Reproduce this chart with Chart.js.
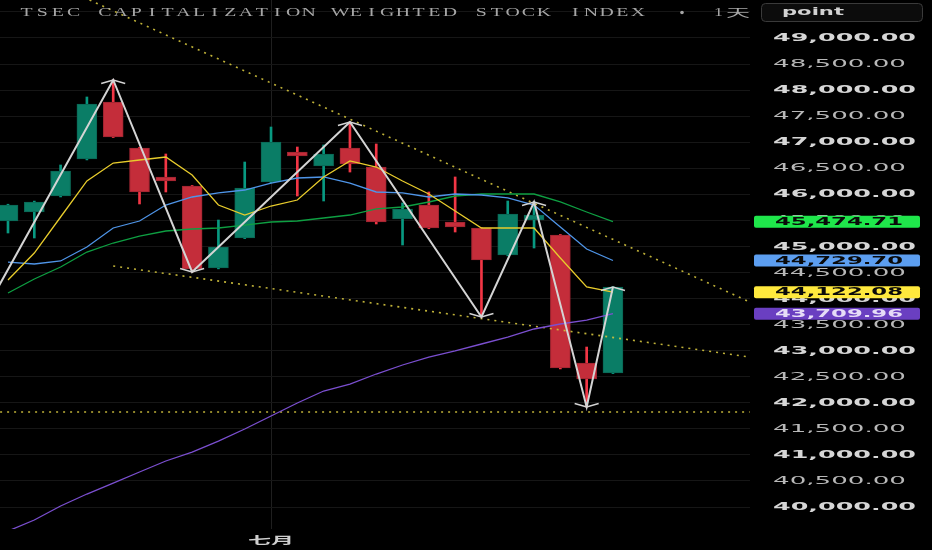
<!DOCTYPE html>
<html>
<head>
<meta charset="utf-8">
<script src="https://cdn.jsdelivr.net/npm/chart.js@4.4.1/dist/chart.umd.min.js"></script>
<style>
  html, body { margin: 0; padding: 0; background: #000; }
  #wrap { width: 932px; height: 550px; }
</style>
</head>
<body>
<div id="wrap"><canvas id="chart" width="932" height="550"></canvas></div>
<script>
// daily candles, index 0..23 (index 10 = first trading day of July)
const opens  = [45488, 45661, 45968, 46678, 47772, 46889, 46333, 46160, 44586, 45162, 46237, 46812,
                46544, 46889, 46524, 45527, 45795, 45469, 45354, 44836, 45507, 45220, 42763, 42571];
const highs  = [45810, 45870, 46563, 47868, 48194, 46900, 46774, 46170, 45507, 46620, 47292, 46908,
                46947, 47388, 46966, 45834, 46045, 46333, 45360, 45872, 45853, 45230, 43070, 44230];
const lows   = [45258, 45162, 45950, 46660, 47090, 45815, 46045, 44510, 44570, 45150, 46220, 45968,
                45872, 46428, 45431, 45028, 45340, 45277, 43646, 44820, 44970, 42650, 41919, 42560];
const closes = [45795, 45853, 46448, 47733, 47100, 46045, 46256, 44567, 44989, 46122, 47004, 46736,
                46774, 46582, 45469, 45718, 45354, 45373, 44740, 45623, 45603, 42667, 42456, 44222];

const ma5  = [44356, 44874, 45565, 46256, 46601, 46659, 46716, 46371, 45795, 45603, 45776, 45891,
              46333, 46640, 46524, 46256, 46006, 45680, 45354, 45354, 45354, 44778, 44222, 44122.08];
const ma10 = [44701, 44663, 44721, 44989, 45354, 45488, 45795, 45949, 46026, 46083, 46217, 46313,
              46333, 46217, 46045, 46026, 45949, 46006, 45987, 45930, 45795, 45373, 44951, 44729.70];
const ma20 = [44107, 44375, 44605, 44893, 45066, 45200, 45296, 45335, 45354, 45411, 45469, 45488,
              45546, 45603, 45719, 45757, 45853, 45968, 46006, 46006, 46006, 45853, 45661, 45474.71];
const ma60 = [39539, 39750, 40019, 40249, 40460, 40672, 40883, 41055, 41266, 41497, 41746, 41996,
              42226, 42360, 42552, 42725, 42878, 42994, 43128, 43262, 43416, 43512, 43588, 43709.96];

// zigzag pivots
const zigzagIdx = [-1, 4, 7, 13, 18, 20, 22, 23];
const zigzagVal = [43650, 48194, 44510, 47388, 43646, 45853, 41919, 44222];

// dotted drawing lines: [idx, value] pairs
const upperTrend = [[3.1, 49729], [28.2, 43934]];
const lowerTrend = [[4, 44625], [28.2, 42878]];
const supportLine = [[-0.3, 41823], [28.2, 41823]];

const yTicks = [];
for (let v = 40000; v <= 49500; v += 500) yTicks.push(v);
const monthTick = 10;
const monthLabel = '七月';
const lastValues = [45474.71, 44729.70, 44122.08, 43709.96];
const titleText = 'TSEC CAPITALIZATION WEIGHTED STOCK INDEX';
const intervalText = '1天';
const unitText = 'point';

const UP = '#0a7d66', DOWN = '#c42d3a';
const idx = opens.map((_, i) => i);
const isUp = i => closes[i] >= opens[i];
const pts = (arr) => arr.map((v, i) => ({ x: i, y: v }));
const pairPts = (arr) => arr.map(p => ({ x: p[0], y: p[1] }));
const dotted = 'rgba(212,196,62,0.9)';
const fmt = v => v.toLocaleString('en-US', { minimumFractionDigits: 2, maximumFractionDigits: 2 });

function stretchText(ctx, text, x, y, width) {
  const w = ctx.measureText(text).width;
  ctx.save();
  ctx.translate(x, y);
  ctx.scale(width / w, 1);
  ctx.fillText(text, 0, 0);
  ctx.restore();
}

const bgPlugin = {
  id: 'bg',
  beforeDraw(chart) {
    const ctx = chart.ctx;
    ctx.save();
    ctx.fillStyle = '#000';
    ctx.fillRect(0, 0, chart.width, chart.height);
    ctx.restore();
  }
};

const overlayPlugin = {
  id: 'overlay',
  afterDatasetsDraw(chart) {
    const ctx = chart.ctx, xs = chart.scales.x, ys = chart.scales.y;
    ctx.save();
    ctx.strokeStyle = '#d4d4d4';
    ctx.lineWidth = 1.5;
    for (let k = 1; k < zigzagIdx.length; k++) {
      const px = xs.getPixelForValue(zigzagIdx[k]);
      const py = ys.getPixelForValue(zigzagVal[k]);
      const peak = zigzagVal[k] > zigzagVal[k - 1];
      const d = peak ? 3.5 : -3.5;
      ctx.beginPath();
      ctx.moveTo(px - 12, py + d);
      ctx.lineTo(px, py);
      ctx.lineTo(px + 12, py + d);
      ctx.stroke();
    }
    ctx.restore();
  },
  afterDraw(chart) {
    const ctx = chart.ctx, xs = chart.scales.x, ys = chart.scales.y;
    ctx.save();
    ctx.textBaseline = 'middle';

    // title, one fixed-width cell per character
    ctx.fillStyle = '#a6a6a6';
    ctx.font = '12px "Liberation Serif"';
    ctx.textAlign = 'center';
    for (let k = 0; k < titleText.length; k++) {
      const ch = titleText[k];
      if (ch === ' ') continue;
      ctx.save();
      ctx.translate(20 + k * 15.68 + 6.5, 12.5);
      ctx.scale(1.65, 1);
      ctx.fillText(ch, 0, 0);
      ctx.restore();
    }
    ctx.textAlign = 'left';
    ctx.beginPath();
    ctx.arc(682, 12.5, 1.8, 0, Math.PI * 2);
    ctx.fill();
    ctx.font = '12px "Liberation Serif"';
    stretchText(ctx, intervalText[0], 714, 12.5, 9);
    ctx.font = '11px "Noto Sans CJK SC"';
    stretchText(ctx, intervalText.slice(1), 726, 12.5, 24);

    // unit box
    ctx.fillStyle = '#0c0c0c';
    ctx.strokeStyle = '#3a3a3a';
    ctx.lineWidth = 1;
    ctx.beginPath();
    ctx.roundRect(761.5, 3.5, 161, 18, 4);
    ctx.fill();
    ctx.stroke();
    ctx.fillStyle = '#d2d2d2';
    ctx.font = 'bold 11px "DejaVu Sans"';
    stretchText(ctx, unitText, 782, 12.5, 62);

    // month label
    ctx.fillStyle = '#cfcfcf';
    ctx.font = 'bold 10px "Noto Sans CJK SC"';
    stretchText(ctx, monthLabel, xs.getPixelForValue(monthTick) - 23, 540, 46);

    // y tick labels
    yTicks.forEach(v => {
      if (v > 49000) return;
      const y = ys.getPixelForValue(v);
      const major = v % 1000 === 0;
      ctx.fillStyle = major ? '#d6d6d6' : '#b8b8b8';
      ctx.font = (major ? 'bold ' : '') + '10px "DejaVu Sans"';
      stretchText(ctx, fmt(v), 773, y + 0.5, major ? 143 : 133);
    });

    // last value tags
    const tagBg = ['#1fe64b', '#5c9ef0', '#ffe93d', '#6a3fc1'];
    const tagFg = ['#0a0a0a', '#0a0a0a', '#0a0a0a', '#e6dcf7'];
    lastValues.forEach((v, k) => {
      const y = ys.getPixelForValue(v);
      ctx.fillStyle = tagBg[k];
      ctx.beginPath();
      ctx.roundRect(754, y - 6, 166, 12, 2);
      ctx.fill();
      ctx.fillStyle = tagFg[k];
      ctx.font = 'bold 10px "DejaVu Sans"';
      stretchText(ctx, fmt(v), 775, y + 0.5, 128);
    });
    ctx.restore();
  }
};

new Chart(document.getElementById('chart'), {
  type: 'bar',
  data: {
    datasets: [
      {
        type: 'line', order: 0, data: zigzagIdx.map((x, k) => ({ x: x, y: zigzagVal[k] })),
        borderColor: '#d4d4d4', borderWidth: 2, pointRadius: 0, tension: 0
      },
      { type: 'line', order: 1, data: pts(ma5), borderColor: '#e8cc2c', borderWidth: 1.3, pointRadius: 0 },
      { type: 'line', order: 1, data: pts(ma10), borderColor: '#4f95e8', borderWidth: 1.3, pointRadius: 0 },
      { type: 'line', order: 1, data: pts(ma20), borderColor: '#0e9f42', borderWidth: 1.3, pointRadius: 0 },
      { type: 'line', order: 1, data: pts(ma60), borderColor: '#7b4fd0', borderWidth: 1.3, pointRadius: 0 },
      { type: 'line', order: 2, data: pairPts(upperTrend), borderColor: dotted, borderWidth: 1.6, borderDash: [2, 5], pointRadius: 0 },
      { type: 'line', order: 2, data: pairPts(lowerTrend), borderColor: dotted, borderWidth: 1.6, borderDash: [2, 5], pointRadius: 0 },
      { type: 'line', order: 2, data: pairPts(supportLine), borderColor: dotted, borderWidth: 1.6, borderDash: [2, 5], pointRadius: 0 },
      {
        order: 3, grouped: false, barThickness: 20,
        data: idx.map(i => ({ x: i, y: [opens[i], closes[i]] })),
        backgroundColor: idx.map(i => isUp(i) ? UP : DOWN),
        borderColor: idx.map(i => isUp(i) ? '#0b6654' : '#9c2430'),
        borderWidth: 1, borderSkipped: false
      },
      {
        order: 4, grouped: false, barThickness: 2,
        data: idx.map(i => ({ x: i, y: [lows[i], highs[i]] })),
        backgroundColor: idx.map(i => isUp(i) ? '#089981' : '#f23645')
      }
    ]
  },
  options: {
    responsive: false,
    animation: false,
    layout: { padding: 0 },
    plugins: { legend: { display: false }, tooltip: { enabled: false } },
    scales: {
      x: {
        type: 'linear', min: -0.304, max: 28.21, offset: false,
        afterBuildTicks: (axis) => { axis.ticks = [{ value: monthTick }]; },
        afterFit: (axis) => { axis.height = 21; },
        grid: { color: '#1f1f1f', offset: false, drawTicks: false },
        border: { display: false },
        ticks: { display: false }
      },
      y: {
        position: 'right', min: 39578, max: 49729,
        afterBuildTicks: (axis) => { axis.ticks = yTicks.map(v => ({ value: v })); },
        afterFit: (axis) => { axis.width = 182; },
        grid: { color: '#161616', drawTicks: false },
        border: { display: false },
        ticks: { display: false }
      }
    }
  },
  plugins: [bgPlugin, overlayPlugin]
});
</script>
</body>
</html>
